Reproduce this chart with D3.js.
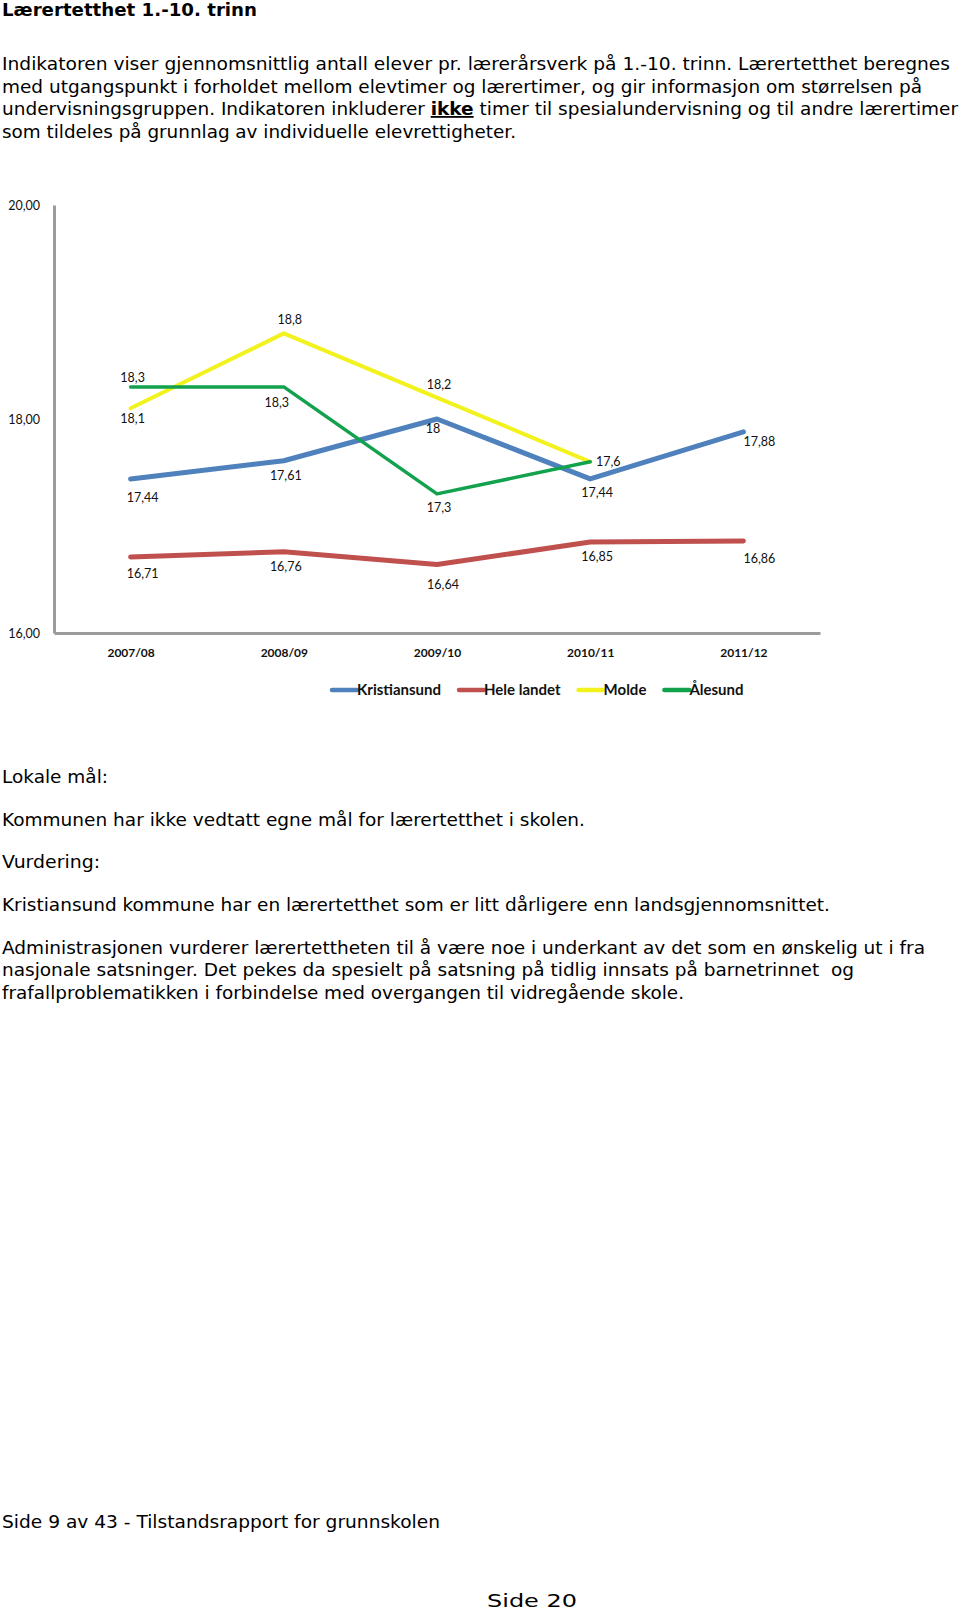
<!DOCTYPE html>
<html>
<head>
<meta charset="utf-8">
<script src="https://cdn.jsdelivr.net/npm/d3@7"></script>
<style>
  html, body { margin: 0; padding: 0; background: #fff; }
  svg { display: block; }
  .body-text { font-family: "DejaVu Sans", Verdana, sans-serif; font-size: 18px; fill: #000; white-space: pre; }
  .chart-text { font-family: Lato, "Open Sans", sans-serif; fill: #111; }
</style>
</head>
<body>
<svg id="page" width="960" height="1610"></svg>
<script>
// ---------- data ----------
const categories = ["2007/08", "2008/09", "2009/10", "2010/11", "2011/12"];
const kristiansund = [17.44, 17.61, 18, 17.44, 17.88];
const heleLandet = [16.71, 16.76, 16.64, 16.85, 16.86];
const molde = [18.1, 18.8, 18.2, 17.6, null];
const aalesund = [18.3, 18.3, 17.3, 17.6, null];
const seriesNames = ["Kristiansund", "Hele landet", "Molde", "Ålesund"];
const yTicks = [16, 18, 20];

// ---------- page texts ----------
const titleText = "Lærertetthet 1.-10. trinn";
const introLines = [
  [["Indikatoren viser gjennomsnittlig antall elever pr. lærerårsverk på 1.-10. trinn. Lærertetthet beregnes", false]],
  [["med utgangspunkt i forholdet mellom elevtimer og lærertimer, og gir informasjon om størrelsen på", false]],
  [["undervisningsgruppen. Indikatoren inkluderer ", false], ["ikke", true], [" timer til spesialundervisning og til andre lærertimer", false]],
  [["som tildeles på grunnlag av individuelle elevrettigheter.", false]]
];
const afterLines = [
  "Lokale mål:",
  "Kommunen har ikke vedtatt egne mål for lærertetthet i skolen.",
  "Vurdering:",
  "Kristiansund kommune har en lærertetthet som er litt dårligere enn landsgjennomsnittet.",
  "Administrasjonen vurderer lærertettheten til å være noe i underkant av det som en ønskelig ut i fra",
  "nasjonale satsninger. Det pekes da spesielt på satsning på tidlig innsats på barnetrinnet  og",
  "frafallproblematikken i forbindelse med overgangen til vidregående skole."
];
const footerText = "Side 9 av 43 - Tilstandsrapport for grunnskolen";
const pageText = "Side 20";

// ---------- layout / style (not data) ----------
const introLayout = { baselines: [70, 92.5, 115, 137.5], widths: [948, 920, 956, 514] };
const afterLayout = { baselines: [782.5, 825.5, 867.5, 911, 954, 976, 998.5], widths: [106, 583, 98, 828, 923, 852, 682] };
const seriesStyle = [
  { color: "#4F81BD", width: 5 },
  { color: "#C0504D", width: 5 },
  { color: "#F2F21E", width: 4 },
  { color: "#12A24E", width: 3.5 }
];
// label offsets (dx, dy) from the point to the label centre; null = no label shown
const labelOffsets = [
  [[12, 19], [2, 15], [-4, 10], [7, 14], [16, 10]],
  [[12, 17], [2, 15], [6, 20.5], [7, 15], [16, 18]],
  [[2, 10], [6, -14], [2, -13], [18, 0], null],
  [[2, -9], [-7, 16], [2, 14], null, null]
];

const svg = d3.select("#page");
svg.append("rect").attr("width", 960).attr("height", 1610).attr("fill", "#fff");

// title
svg.append("text").attr("class", "body-text")
  .attr("x", 2).attr("y", 15.5)
  .attr("font-weight", "bold")
  .attr("textLength", 255).attr("lengthAdjust", "spacingAndGlyphs")
  .text(titleText);

// intro paragraph
introLines.forEach((parts, i) => {
  const t = svg.append("text").attr("class", "body-text")
    .attr("x", 2).attr("y", introLayout.baselines[i])
    .attr("textLength", introLayout.widths[i]).attr("lengthAdjust", "spacingAndGlyphs");
  parts.forEach(([s, strong]) => {
    const ts = t.append("tspan").text(s);
    if (strong) ts.attr("font-weight", "bold").style("text-decoration", "underline");
  });
});

// ---------- chart ----------
const x = d3.scalePoint().domain(categories).range([54, 820]).padding(0.5);
const y = d3.scaleLinear().domain([16, 20]).range([633, 205]);
const commaFmt = v => String(v).replace(".", ",");
const tickFmt = v => d3.format(".2f")(v).replace(".", ",");

const chart = svg.append("g");

// axes
const yAxis = chart.append("g").attr("transform", "translate(54,0)")
  .call(d3.axisLeft(y).tickValues(yTicks).tickFormat(tickFmt).tickSize(0).tickPadding(14));
const xAxis = chart.append("g").attr("transform", "translate(0,633)")
  .call(d3.axisBottom(x).tickSize(0).tickPadding(14));
[yAxis, xAxis].forEach(a => {
  a.select(".domain").attr("stroke", "#9b9b9b").attr("stroke-width", 3);
  a.selectAll("text").attr("class", "chart-text").attr("fill", "#111");
});
yAxis.selectAll("text").attr("font-size", 12.5).attr("font-family", "Lato, sans-serif");
xAxis.selectAll("text").attr("font-size", 12).attr("font-weight", "bold").attr("font-family", "Lato, sans-serif")
  .attr("dy", "0.32em").attr("y", 20);

// series
const allSeries = [kristiansund, heleLandet, molde, aalesund];
const line = d3.line()
  .defined(d => d.v != null)
  .x(d => x(d.c)).y(d => y(d.v));

allSeries.forEach((vals, si) => {
  const pts = vals.map((v, i) => ({ c: categories[i], v }));
  chart.append("path")
    .datum(pts)
    .attr("fill", "none")
    .attr("stroke", seriesStyle[si].color)
    .attr("stroke-width", seriesStyle[si].width)
    .attr("stroke-linejoin", "round")
    .attr("stroke-linecap", "round")
    .attr("d", line);
});

// data labels
allSeries.forEach((vals, si) => {
  vals.forEach((v, i) => {
    const off = labelOffsets[si][i];
    if (v == null || !off) return;
    chart.append("text").attr("class", "chart-text")
      .attr("x", x(categories[i]) + off[0])
      .attr("y", y(v) + off[1])
      .attr("text-anchor", "middle")
      .attr("dy", "0.35em")
      .attr("font-size", 12.5)
      .text(commaFmt(v));
  });
});

// legend
const legend = chart.append("g").attr("transform", "translate(332,690)");
let lx = 0;
seriesNames.forEach((name, si) => {
  const g = legend.append("g").attr("transform", `translate(${lx},0)`);
  g.append("line").attr("x1", 0).attr("x2", 25).attr("y1", 0).attr("y2", 0)
    .attr("stroke", seriesStyle[si].color).attr("stroke-width", 4.5)
    .attr("stroke-linecap", "round");
  const t = g.append("text").attr("class", "chart-text")
    .attr("x", 25).attr("y", 0).attr("dy", "0.36em")
    .attr("font-size", 15).attr("font-weight", "bold")
    .text(name);
  lx += 25 + t.node().getComputedTextLength() + 18;
});

// after-chart paragraphs
afterLines.forEach((s, i) => {
  svg.append("text").attr("class", "body-text")
    .attr("x", 2).attr("y", afterLayout.baselines[i])
    .attr("textLength", afterLayout.widths[i]).attr("lengthAdjust", "spacingAndGlyphs")
    .text(s);
});

// footer
svg.append("text").attr("class", "body-text")
  .attr("x", 2).attr("y", 1527.5)
  .attr("textLength", 438).attr("lengthAdjust", "spacingAndGlyphs")
  .text(footerText);
svg.append("text").attr("class", "body-text")
  .attr("x", 487).attr("y", 1607)
  .attr("font-size", 25)
  .attr("textLength", 90).attr("lengthAdjust", "spacingAndGlyphs")
  .text(pageText);
</script>
</body>
</html>
